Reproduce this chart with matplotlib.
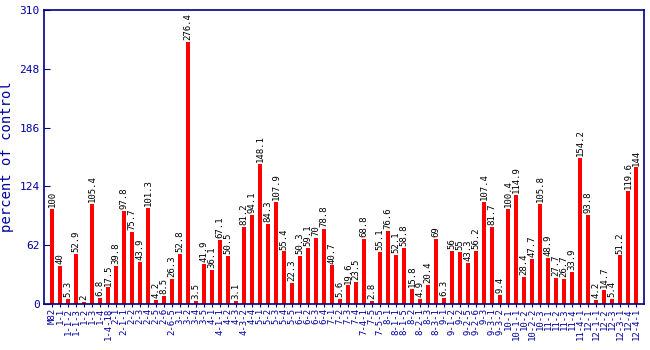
import matplotlib
matplotlib.use("Agg")
import matplotlib.pyplot as plt

labels = ["M82", "1-1", "1-1-2", "1-1-3", "1-2", "1-3", "1-4", "1-4-18",
          "2-1", "2-1-1", "2-2", "2-3", "2-4", "2-5", "2-6", "2-6-5",
          "3-1", "3-2", "3-4", "3-5",
          "4-1", "4-1-1", "4-2", "4-3", "4-3-2", "4-4",
          "5-1", "5-2", "5-3", "5-4", "5-5",
          "6-1", "6-2", "6-3", "6-4",
          "7-1", "7-2", "7-3", "7-4", "7-4-1", "7-5", "7-5-5",
          "8-1", "8-1-1", "8-1-5", "8-2", "8-2-1", "8-3", "8-3-1",
          "9-1", "9-1-2", "9-2", "9-2-5", "9-2-6", "9-3", "9-3-1", "9-3-2",
          "10-1", "10-1-1", "10-2", "10-2-2", "10-3",
          "11-1", "11-2", "11-3", "11-4", "11-4-1",
          "12-1", "12-1-1", "12-2", "12-3", "12-3-1", "12-4", "12-4-1"]
values = [100, 40, 5.3, 52.9, 2, 105.4, 6.8, 17.5,
          39.8, 97.8, 75.7, 43.9, 101.3, 4.2, 8.5, 26.3,
          52.8, 276.4, 3.5, 41.9,
          36.1, 67.1, 50.5, 3.1, 81.2, 94.1,
          148.1, 84.3, 107.9, 55.4, 22.3,
          50.3, 59.1, 70, 78.8,
          40.7, 5.6, 19.6, 23.5, 68.8, 2.8, 55.1,
          76.6, 52.1, 58.8, 15.8, 4.9, 20.4, 69,
          6.3, 56, 55, 43.3, 56.2, 107.4, 81.7, 9.4,
          100.4, 114.9, 28.4, 47.7, 105.8,
          48.9, 27.7, 26.7, 33.9, 154.2,
          93.8, 4.2, 14.7, 5.4, 51.2, 119.6, 144]
y_ticks = [0, 62, 124, 186, 248, 310]

navy = "#000080"
blue = "#0000a0"
mono = "DejaVu Sans Mono"

fig = plt.figure(figsize=(6.5, 3.5), dpi=100)
ax = fig.add_axes([44 / 650, 46 / 350, 600 / 650, 294 / 350])

x = list(range(len(values)))
ax.bar(x, values, width=0.4, color="#ff0000", zorder=2)

for xi, v in zip(x, values):
    txt = f"{v:g}"
    ax.text(xi, v + 2, txt, rotation=90, ha="center", va="bottom",
            fontsize=6.5, family=mono, color="black")

ax.set_xlim(-1, len(values))
ax.set_ylim(0, 310)
ax.set_yticks(y_ticks)
ax.set_yticklabels([str(t) for t in y_ticks], family=mono, fontsize=8, color=blue)
ax.set_xticks(x)
ax.set_xticklabels(labels, rotation=90, family=mono, fontsize=6.5, color=blue)
ax.tick_params(axis="y", direction="in", length=4, color=navy, pad=3)
ax.tick_params(axis="x", direction="out", length=2, color=navy, pad=1)
for s in ax.spines.values():
    s.set_color(navy)
    s.set_linewidth(1.2)

ax.set_ylabel("percent of control", family=mono, fontsize=10, color=blue, labelpad=4)

fig.savefig("out.png", dpi=100)
